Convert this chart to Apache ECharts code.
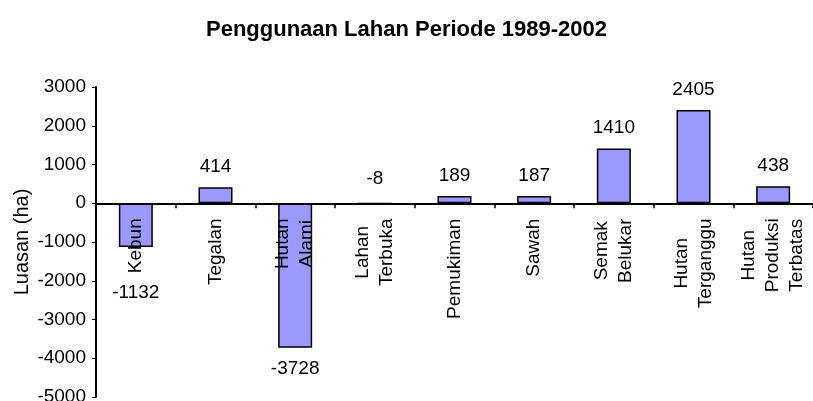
<!DOCTYPE html>
<html>
<head>
<meta charset="utf-8">
<script src="https://cdn.jsdelivr.net/npm/echarts@6/dist/echarts.min.js"></script>
<style>
    html, body { margin: 0; padding: 0; background: #fff; }
    #chart { width: 813px; height: 401px; }
</style>
</head>
<body>
<div id="chart"></div>
<script>
    // data
    var categories = ['Kebun', 'Tegalan', 'Hutan\nAlami', 'Lahan\nTerbuka', 'Pemukiman', 'Sawah', 'Semak\nBelukar', 'Hutan\nTerganggu', 'Hutan\nProduksi\nTerbatas'];
    var luasan = [-1132, 414, -3728, -8, 189, 187, 1410, 2405, 438];
    var yMin = -5000;
    var yMax = 3000;
    var yStep = 1000;

    var FONT = '"Liberation Sans", Arial, sans-serif';
    var labelSize = 19;

    // ukur baris label supaya nama dua/tiga baris tetap di tengah
    var ctx = document.createElement('canvas').getContext('2d');
    ctx.font = labelSize + 'px ' + FONT;
    var rich = {};
    categories.forEach(function (name, i) {
        var w = 0;
        name.split('\n').forEach(function (l) {
            w = Math.max(w, ctx.measureText(l).width);
        });
        rich['c' + i] = {width: Math.ceil(w) + 2, align: 'center', fontSize: labelSize, fontFamily: FONT, color: '#000', lineHeight: 24};
    });

    var seriesData = luasan.map(function (v, i) {
        var item = {value: v, label: {}};
        if (v < 0 && v > -100) {
            item.label.position = 'top';
            item.label.distance = 14;
        } else if (v < 0) {
            item.label.position = 'bottom';
            item.label.distance = categories[i] == 'Kebun' ? 36 : 12;
        }
        return item;
    });

    var myChart = echarts.init(document.getElementById('chart'));
    var option = {
        backgroundColor: '#fff',
        animation: false,
        title: {
            text: 'Penggunaan Lahan Periode 1989-2002',
            left: 'center',
            top: 14,
            textStyle: {fontSize: 22, fontWeight: 'bold', fontFamily: FONT, color: '#000'}
        },
        grid: {left: 96, right: 0, top: 87, bottom: 4, outerBoundsMode: 'none', containLabel: false},
        xAxis: {
            type: 'category',
            data: categories,
            z: 5,
            offset: 0,
            axisLine: {onZero: false, lineStyle: {color: '#000', width: 2}},
            axisTick: {show: true, length: 5, lineStyle: {color: '#000', width: 1.5}},
            axisLabel: {
                rotate: 90,
                margin: 14,
                interval: 0,
                formatter: function (value, idx) {
                    return value.split('\n').map(function (l) {
                        return '{c' + idx + '|' + l + '}';
                    }).join('\n');
                },
                rich: rich
            }
        },
        yAxis: {
            type: 'value',
            min: yMin,
            max: yMax,
            interval: yStep,
            name: 'Luasan (ha)',
            nameLocation: 'middle',
            nameGap: 64,
            nameMoveOverlap: false,
            nameTextStyle: {fontSize: 20, fontFamily: FONT, color: '#000'},
            splitLine: {show: false},
            axisLine: {show: true, lineStyle: {color: '#000', width: 2}},
            axisTick: {show: true, length: 4, lineStyle: {color: '#000'}},
            axisLabel: {
                fontSize: 19,
                fontFamily: FONT,
                color: '#000',
                margin: 10,
                formatter: function (v) { return String(v); }
            }
        },
        series: [{
            type: 'bar',
            data: seriesData,
            barWidth: 34,
            itemStyle: {color: '#9999ff', borderColor: '#000', borderWidth: 1.5},
            label: {
                show: true,
                position: 'top',
                distance: 11,
                fontSize: 19,
                fontFamily: FONT,
                color: '#000'
            }
        }]
    };
    myChart.setOption(option);

    // geser sumbu kategori ke garis nol (label ikut pindah)
    var zeroY = myChart.convertToPixel({yAxisIndex: 0}, 0);
    var baseY = myChart.convertToPixel({yAxisIndex: 0}, yMin);
    myChart.setOption({xAxis: {offset: zeroY - baseY}});
</script>
</body>
</html>
